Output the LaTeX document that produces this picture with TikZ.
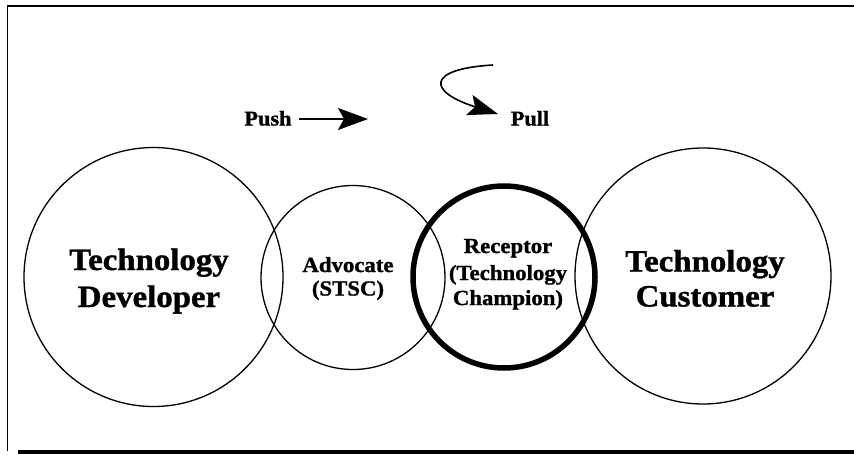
\documentclass[tikz,border=0pt]{standalone}
\usepackage{fontspec}
\setmainfont{Liberation Serif}[FakeStretch=1.06, BoldFeatures={FakeBold=1.2}]
\usetikzlibrary{arrows.meta}
\tikzset{
  ring/.style={circle, draw, line width=1.3pt, inner sep=0pt},
  thickring/.style={circle, draw, line width=5.5pt, inner sep=0pt},
  bigtxt/.style={anchor=base, inner sep=0pt, font=\fontsize{31}{34}\selectfont\bfseries},
  midtxt/.style={anchor=base, inner sep=0pt, font=\fontsize{21.5}{24}\selectfont\bfseries},
  lbltxt/.style={anchor=base, inner sep=0pt, font=\fontsize{21}{24}\selectfont\bfseries},
  bigarrow/.style={line width=1.8pt, -{Stealth[length=30pt, width=22pt, inset=6pt]}},
  curvearrow/.style={line width=1.6pt, -{Stealth[length=30pt, width=21pt, inset=6pt]}},
  framethin/.style={line width=1.5pt},
  framethick/.style={line width=3.5pt}
}
\begin{document}
\begin{tikzpicture}[x=1pt, y=-1pt]
\useasboundingbox (0,0) rectangle (854,455);
% frame
\coordinate (fTR) at (854,6);
\coordinate (fTL) at (7.5,6);
\coordinate (fBL) at (7.5,451);
\coordinate (fBs) at (18,452);
\coordinate (fBe) at (854,452);
\draw[framethin] (fTR) -- (fTL) -- (fBL);
\draw[framethick] (fBs) -- (fBe);
% circles
\node[ring, minimum size=259pt] (dev) at (153.5,277) {};
\node[ring, minimum size=184pt] (adv) at (353,277.5) {};
\node[ring, minimum size=256pt] (cus) at (703,276) {};
\node[thickring, minimum size=182pt] (rec) at (504,277) {};
% texts
\node[bigtxt] (dev1) at (149,270) {Technology};
\node[bigtxt] (dev2) at (149,307) {Developer};
\node[midtxt] (adv1) at (348,272) {Advocate};
\node[midtxt] (adv2) at (348,295.5) {(STSC)};
\node[midtxt] (rec1) at (508,253) {Receptor};
\node[midtxt] (rec2) at (508,280) {(Technology};
\node[midtxt] (rec3) at (508,305) {Champion)};
\node[bigtxt] (cus1) at (705,271.5) {Technology};
\node[bigtxt] (cus2) at (705,306.5) {Customer};
% push / pull
\node[lbltxt] (push) at (268,125.5) {Push};
\node[lbltxt] (pull) at (530,125.5) {Pull};
\coordinate (pushS) at (299,119);
\coordinate (pushE) at (368,119);
\draw[bigarrow] (pushS) -- (pushE);
\coordinate (pullS) at (493,65);
\coordinate (pullE) at (498,114);
\draw[curvearrow] (pullS) .. controls (425,69) and (428,92) .. (pullE);
\end{tikzpicture}
\end{document}
